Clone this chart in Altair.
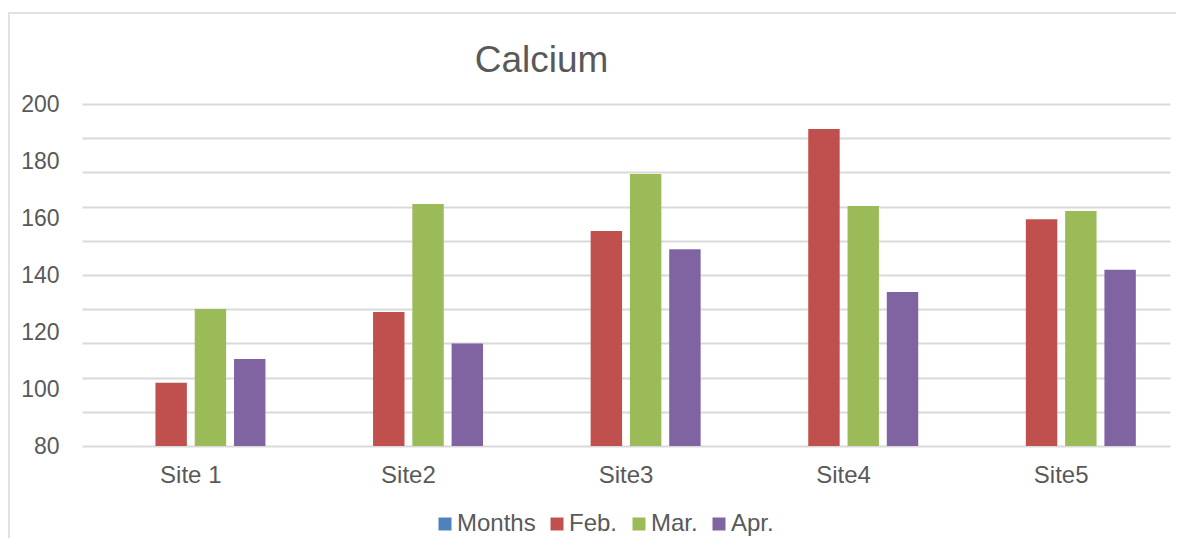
import altair as alt
import pandas as pd

# ---- data ----
sites = ["Site 1", "Site2", "Site3", "Site4", "Site5"]
series = ["Months", "Feb.", "Mar.", "Apr."]
months = [None, None, None, None, None]
feb = [102.2, 127.0, 155.4, 191.2, 159.6]
mar = [128.1, 164.9, 175.4, 164.2, 162.5]
apr = [110.5, 116.0, 149.0, 134.0, 141.8]
colors = ["#4F81BD", "#C0504D", "#9BBB59", "#8064A2"]
y_labels = [80, 100, 120, 140, 160, 180, 200]
grid_values = [80, 92, 104, 116, 128, 140, 152, 164, 176, 188, 200]
title_text = "Calcium"

rows = []
for name, vals in zip(series, [months, feb, mar, apr]):
    for s, v in zip(sites, vals):
        rows.append({"site": s, "series": name, "value": v})
df = pd.DataFrame(rows)

W, H = 1088, 342
FONT = "Liberation Sans"
TXT = "#595959"

yscale = alt.Scale(domain=[80, 200], nice=False, zero=False)
xscale = alt.Scale(domain=sites, paddingInner=0.314, paddingOuter=0.157)

bars = alt.Chart(df).mark_bar().encode(
    x=alt.X("site:N", scale=xscale, sort=sites,
            axis=alt.Axis(title=None, labelAngle=0, domain=False, ticks=False, tickSize=0,
                          labelFontSize=24, labelFont=FONT, labelColor=TXT, labelPadding=17,
                          grid=False)),
    xOffset=alt.XOffset("series:N", scale=alt.Scale(domain=series, paddingInner=0.2, paddingOuter=0)),
    y=alt.Y("value:Q", scale=yscale,
            axis=alt.Axis(title=None, values=y_labels, grid=False, domain=False, ticks=False,
                          tickSize=0, labelFontSize=23, labelFont=FONT, labelColor=TXT,
                          labelPadding=23)),
    y2=alt.datum(80),
    color=alt.Color("series:N", scale=alt.Scale(domain=series, range=colors),
                    legend=alt.Legend(title=None, orient="none", direction="horizontal",
                                      legendX=351, legendY=408, padding=0,
                                      symbolType="square", symbolSize=169, symbolStrokeWidth=0,
                                      labelFontSize=24, labelFont=FONT, labelColor=TXT,
                                      labelOffset=0, columnPadding=9, columns=4)),
)

grid = alt.Chart(df).mark_point(opacity=0).encode(
    y=alt.Y("value:Q", scale=yscale,
            axis=alt.Axis(orient="right", title=None, values=grid_values, labels=False,
                          ticks=False, tickSize=0, domain=False, grid=True,
                          gridColor="#d9d9d9", gridWidth=2)),
)

frame = alt.Chart(alt.Data(values=[{"f": 1}])).mark_rect(
    fill=None, stroke="#d9d9d9", strokeWidth=1.5
).encode(
    x=alt.value(-73), x2=alt.value(1150), y=alt.value(-91), y2=alt.value(520)
)

title = alt.Chart(alt.Data(values=[{"t": title_text}])).mark_text(
    fontSize=37, font=FONT, color=TXT, align="center", baseline="alphabetic"
).encode(
    x=alt.value(459.5), y=alt.value(-32), text="t:N"
)

chart = alt.layer(frame, grid, bars, title).resolve_axis(y="independent").properties(
    width=W, height=H,
    autosize=alt.AutoSizeParams(type="none"),
    padding={"left": 74, "top": 96, "right": 6, "bottom": 92},
).configure_view(stroke=None)

chart.save("out.html", embed_options={"renderer": "svg", "actions": False})
